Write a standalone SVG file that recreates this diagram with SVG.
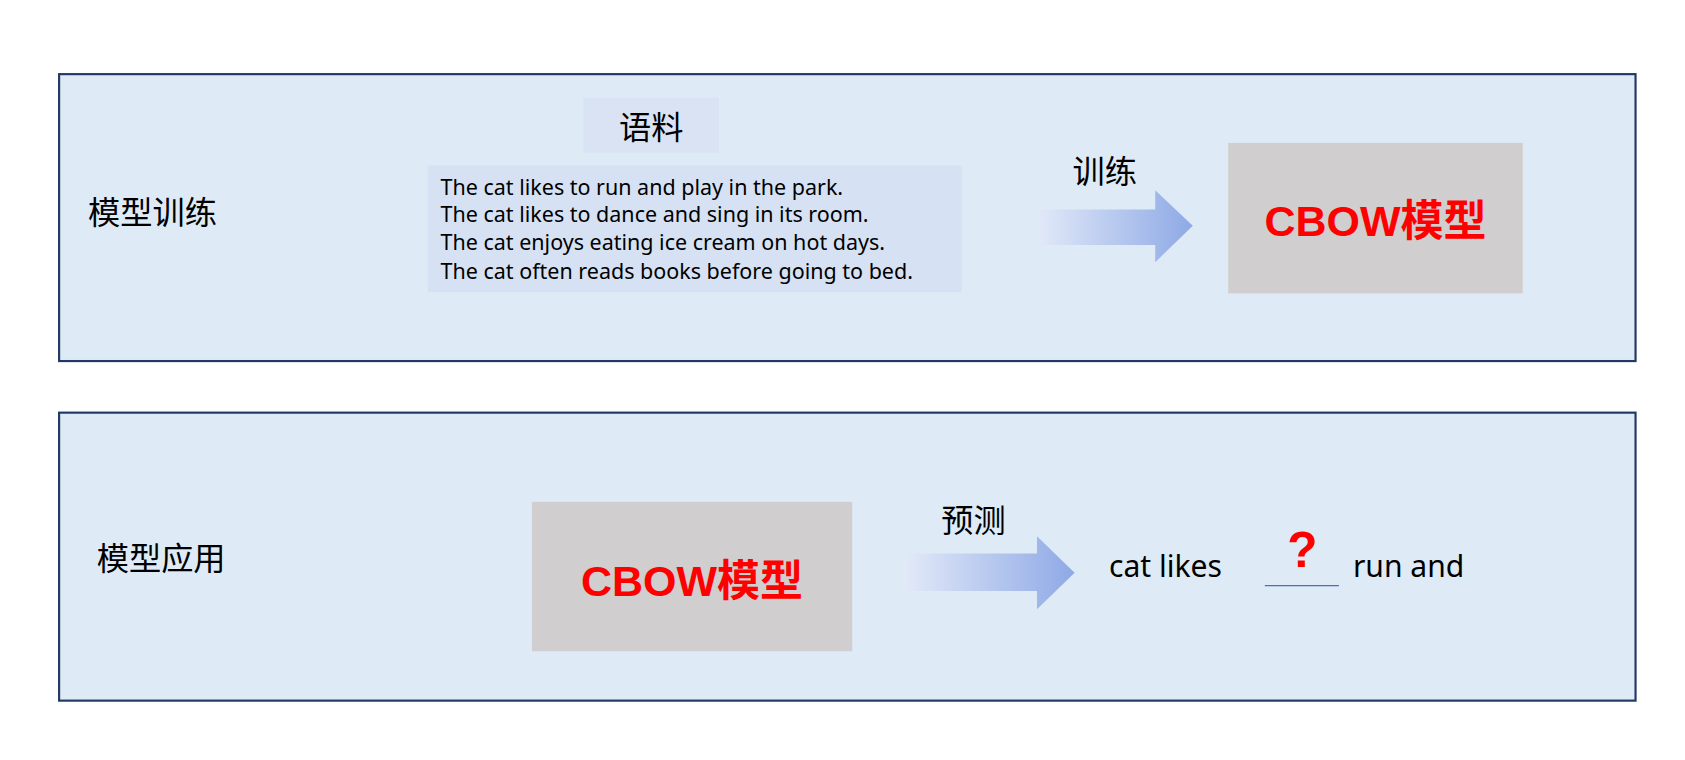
<svg xmlns="http://www.w3.org/2000/svg" width="1685" height="760" viewBox="0 0 1685 760">
<style>
.panel{fill:#deeaf6;stroke:#1f3864;stroke-width:2}
.cn{font-family:"Noto Sans CJK SC","Noto Sans",sans-serif;font-size:30px;fill:#000}
.en{font-family:"Noto Sans","Noto Sans CJK SC",sans-serif;font-size:20px;fill:#000}
.model{fill:#d0cece}
.mt{font-family:"Liberation Sans","Noto Sans CJK SC",sans-serif;font-weight:bold;font-size:40px;fill:#ff0000;text-anchor:middle}
.w{font-family:"Noto Sans","Noto Sans CJK SC",sans-serif;font-size:28px;fill:#000}
</style>
<defs>
<linearGradient id="ag" x1="0" x2="1" y1="0" y2="0">
<stop offset="0" stop-color="#e2e9f8"/><stop offset="1" stop-color="#8ea9e6"/>
</linearGradient>
</defs>
<rect width="1685" height="760" fill="#fff"/>
<g transform="scale(1.0746)">
<g id="train-panel">
<rect class="panel" x="55" y="69" width="1467" height="267"/>
<text class="cn" x="82" y="208">模型训练</text>
</g>
<g id="corpus-label">
<rect x="543" y="91" width="126" height="51" fill="#d9e3f3"/>
<text class="cn" x="606" y="129" text-anchor="middle">语料</text>
</g>
<g id="corpus">
<rect x="398" y="154" width="497" height="118" fill="#d6e2f4"/>
<text class="en" x="410" y="181">The cat likes to run and play in the park.</text>
<text class="en" x="410" y="207">The cat likes to dance and sing in its room.</text>
<text class="en" x="410" y="233">The cat enjoys eating ice cream on hot days.</text>
<text class="en" x="410" y="260">The cat often reads books before going to bed.</text>
</g>
<g id="model-top">
<rect class="model" x="1143" y="133" width="274" height="140"/>
<text class="mt" x="1280" y="220">CBOW模型</text>
</g>
<g id="apply-panel">
<rect class="panel" x="55" y="384" width="1467" height="268"/>
<text class="cn" x="90" y="530">模型应用</text>
</g>
<g id="model-bottom">
<rect class="model" x="495" y="467" width="298" height="139"/>
<text class="mt" x="644" y="555">CBOW模型</text>
</g>
<g id="sentence">
<text class="w" x="1032" y="537">cat  likes</text>
<text x="1212" y="528" font-family="Liberation Sans,sans-serif" font-weight="bold" font-size="46" fill="#ff0000" text-anchor="middle">?</text>
<line x1="1177" y1="545" x2="1246" y2="545" stroke="#4472c4" stroke-width="1.2"/>
<text class="w" x="1259" y="537">run  and</text>
</g>
<g id="connectors">
<polygon points="965,195 1075,195 1075,177 1110,210 1075,244 1075,228 965,228" fill="url(#ag)"/>
<text class="cn" x="1028" y="170" text-anchor="middle">训练</text>
<polygon points="842,515 965,515 965,499 1000,533 965,567 965,550 842,550" fill="url(#ag)"/>
<text class="cn" x="906" y="495" text-anchor="middle">预测</text>
</g>
</g>
</svg>
